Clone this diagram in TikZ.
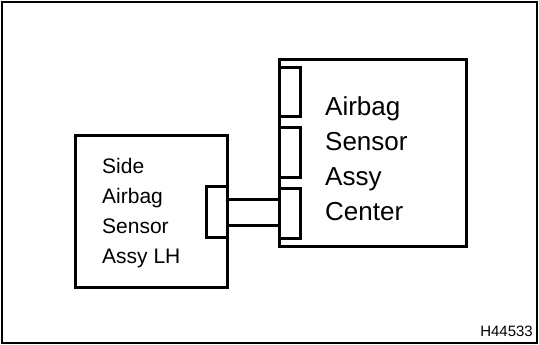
\documentclass[tikz,border=0pt]{standalone}
\usepackage{fontspec}
\setmainfont{Liberation Sans}
\usetikzlibrary{positioning}

\begin{document}
\begin{tikzpicture}[
  x=1pt, y=-1pt,
  unit/.style={draw=black, line width=3pt, inner sep=0pt, outer sep=0pt,
    minimum width=#1},
  plug/.style={draw=black, line width=3pt, inner sep=0pt, outer sep=0pt,
    minimum width=21pt, minimum height=#1},
  label/.style={anchor=base west, align=left, inner sep=0pt},
  wire/.style={line width=3pt}
]
  \useasboundingbox (0,0) rectangle (539,345);
  \draw[line width=2pt] (2,2.5) rectangle (537,343);

  % modules
  \node[unit=152pt, minimum height=151pt] (side) at (151,211.5) {};
  \node[unit=187pt, minimum height=186pt] (center) at (372.5,153) {};

  % connectors
  \node[plug=51pt] (sideplug) at (216.5,211.5) {};
  \node[plug=49pt] (cplugA) at (289.5,92.5) {};
  \node[plug=49pt] (cplugB) at (289.5,152.5) {};
  \node[plug=50pt] (cplugC) at (289.5,213) {};

  % harness
  \draw[wire] ([yshift=12.5pt]sideplug.east) -- ([yshift=12.5pt]sideplug.east -| cplugC.west);
  \draw[wire] ([yshift=-13.5pt]sideplug.east) -- ([yshift=-13.5pt]sideplug.east -| cplugC.west);

  % texts (base = last line)
  \node[label, font=\fontsize{21}{30}\selectfont] (sidetext) at (102,263)
    {Side\\Airbag\\Sensor\\Assy LH};
  \node[label, font=\fontsize{26}{35}\selectfont] (centertext) at (325,220)
    {Airbag\\Sensor\\Assy\\Center};
  \node[anchor=base east, inner sep=0pt, font=\fontsize{15}{17}\selectfont] (code) at (533,336) {H44533};
\end{tikzpicture}
\end{document}
